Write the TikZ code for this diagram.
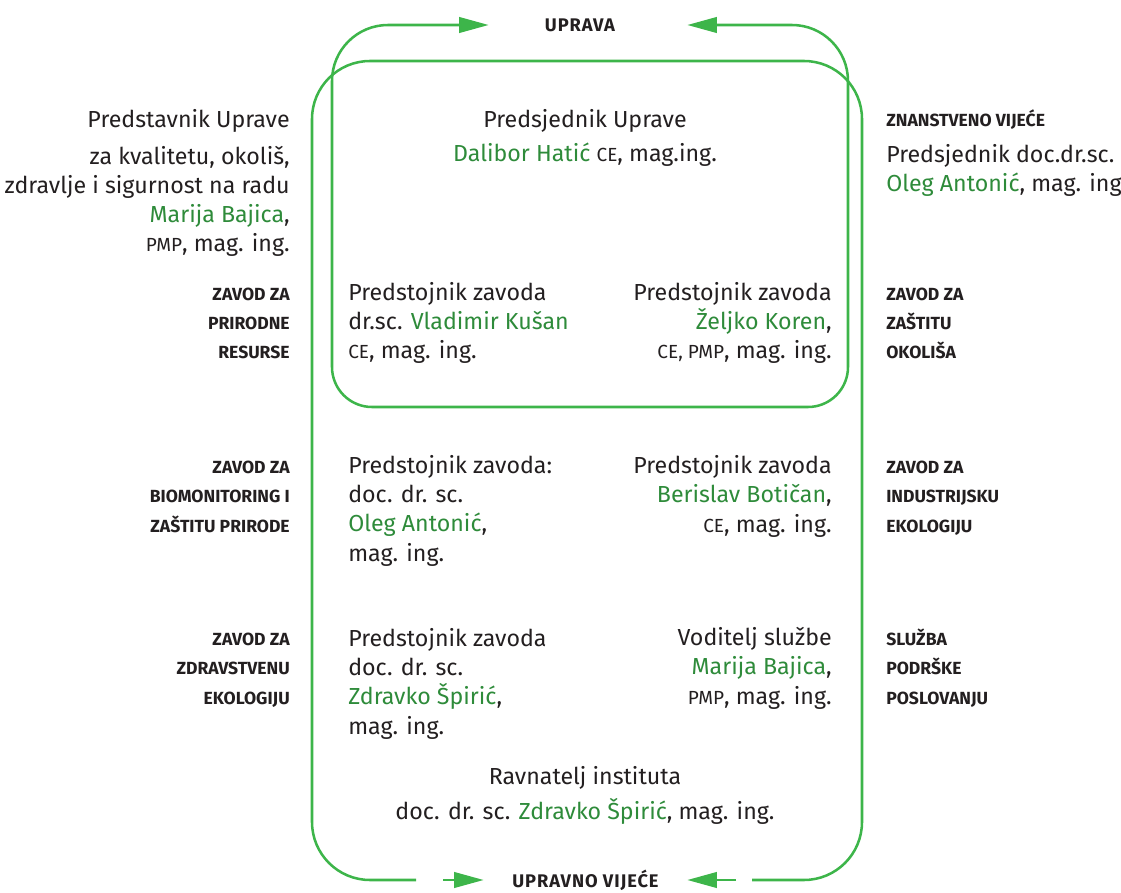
\documentclass[tikz,border=0pt]{standalone}
\usepackage{fontspec}
\setmainfont{Fira Sans}
\usetikzlibrary{arrows.meta}
\definecolor{ink}{HTML}{231F20}
\definecolor{leaf}{HTML}{3DB54A}
\definecolor{namegreen}{HTML}{2E8B3A}
\newcommand\nm[1]{\textcolor{namegreen}{#1}}
\newcommand\abbr[1]{{\fontsize{13.5}{20}\selectfont #1}}

\begin{document}
\begin{tikzpicture}[x=0.025cm,y=-0.025cm,
    font=\fontsize{16.5}{20.8}\selectfont, text=ink,
    txt/.style={inner sep=0pt},
    head/.style={inner sep=0pt,font=\bfseries\fontsize{12.5}{20.8}\selectfont},
    body/.style={inner sep=0pt,font=\bfseries\fontsize{13}{20}\selectfont\addfontfeature{LetterSpace=5}},
    loop/.style={leaf,line width=1.8pt,rounded corners=1.4cm},
    tip/.style={-{Triangle[length=21pt,width=11pt]},leaf,line width=1.8pt}]
  \useasboundingbox (0,0) rectangle (1121,893);
  % governing bodies
  \node[body,minimum width=4.95cm] (uprava) at (588,25) {\hspace*{-0.4cm}UPRAVA};
  \node[body,minimum width=5.075cm] (vijece) at (585.5,880) {UPRAVNO VIJEĆE};
  % loop of the board
  \draw[loop,{Triangle[length=21pt,width=11pt]}-{Triangle[length=21pt,width=11pt]}]
    (uprava.west) -| (332,220) [rounded corners=1cm] |- (590,407)
    -| (848,220) [rounded corners=1.4cm] |- (uprava.east);
  % loop of the council
  \coordinate (lend) at (416,880);
  \coordinate (rend) at (752,880);
  \coordinate (lstem) at (443,880);
  \coordinate (rstem) at (736,880);
  \draw[loop,rounded corners=1.45cm] (lend) -| (312,470) |- (590,61) -| (862,470) |- (rend);
  \draw[tip] (lstem) -- (vijece.west);
  \draw[tip] (rstem) -- (vijece.east);
  % left column (base = last line)
  \node[txt,align=right,anchor=base east] (predst) at (290,252)
    {Predstavnik Uprave\\[5pt] za kvalitetu, okoliš,\\ zdravlje i sigurnost na radu\\
     \nm{Marija Bajica},\\ \abbr{PMP}, mag. ing.};
  \foreach \n/\y/\lab in {zpr/359/{ZAVOD ZA\\PRIRODNE\\RESURSE},
      zbio/532/{ZAVOD ZA\\BIOMONITORING I\\ZAŠTITU PRIRODE},
      zzek/704/{ZAVOD ZA\\ZDRAVSTVENU\\EKOLOGIJU}}
    \node[head,align=right,anchor=base east] (\n) at (290,\y) {\lab};
  % right column
  \node[head,anchor=base west] (znv) at (886,127) {ZNANSTVENO VIJEĆE};
  \node[txt,align=left,anchor=base west] (znvpred) at (886,192)
    {Predsjednik doc.dr.sc.\\ \nm{Oleg Antonić}, mag. ing};
  \foreach \n/\y/\lab in {zok/359/{ZAVOD ZA\\ZAŠTITU\\OKOLIŠA},
      zind/532/{ZAVOD ZA\\INDUSTRIJSKU\\EKOLOGIJU},
      spp/704/{SLUŽBA\\PODRŠKE\\POSLOVANJU}}
    \node[head,align=left,anchor=base west] (\n) at (886,\y) {\lab};
  % heads inside
  \node[txt,align=center,anchor=base] (pupr) at (585,162)
    {Predsjednik Uprave\\[4pt] \nm{Dalibor Hatić} \abbr{CE}, mag.ing.};
  \node[txt,align=left,anchor=base west] (hpr) at (348,359)
    {Predstojnik zavoda\\ dr.sc. \nm{Vladimir Kušan}\\ \abbr{CE}, mag. ing.};
  \node[txt,align=right,anchor=base east] (hok) at (832,359)
    {Predstojnik zavoda\\ \nm{Željko Koren},\\ \abbr{CE, PMP}, mag. ing.};
  \node[txt,align=left,anchor=base west] (hbio) at (348,561)
    {Predstojnik zavoda:\\ doc. dr. sc.\\ \nm{Oleg Antonić},\\ mag. ing.};
  \node[txt,align=right,anchor=base east] (hind) at (832,532)
    {Predstojnik zavoda\\ \nm{Berislav Botičan},\\ \abbr{CE}, mag. ing.};
  \node[txt,align=left,anchor=base west] (hzek) at (348,734)
    {Predstojnik zavoda\\ doc. dr. sc.\\ \nm{Zdravko Špirić},\\ mag. ing.};
  \node[txt,align=right,anchor=base east] (hspp) at (832,704)
    {Voditelj službe\\ \nm{Marija Bajica},\\ \abbr{PMP}, mag. ing.};
  \node[txt,align=center,anchor=base] (ravn) at (585,819)
    {Ravnatelj instituta\\[3.5pt] doc. dr. sc. \nm{Zdravko Špirić}, mag. ing.};
\end{tikzpicture}
\end{document}
